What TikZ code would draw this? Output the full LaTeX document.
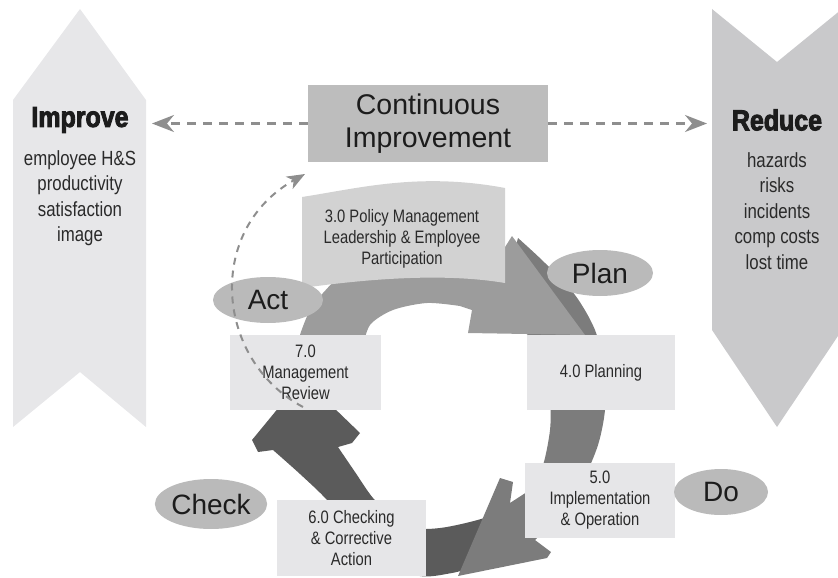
\documentclass[tikz,border=0pt]{standalone}
\usepackage{fontspec}
\setmainfont{Liberation Sans}
\newfontfamily\condf[FakeStretch=0.82]{Liberation Sans}
\newfontfamily\heavyf[FakeStretch=0.86,FakeBold=3]{Liberation Sans Bold}
\usetikzlibrary{shapes.geometric,arrows.meta}
\definecolor{impgray}{HTML}{E7E7E9}
\definecolor{redgray}{HTML}{C9C9CB}
\definecolor{cigray}{HTML}{BDBDBD}
\definecolor{boxgray}{HTML}{E6E6E8}
\definecolor{bannergray}{HTML}{D2D2D2}
\definecolor{ovalgray}{HTML}{BABABA}
\definecolor{agray}{HTML}{9C9C9C}
\definecolor{bgray}{HTML}{7C7C7C}
\definecolor{cgray}{HTML}{5B5B5B}
\definecolor{dashgray}{HTML}{8E8E8E}
\definecolor{txt}{HTML}{1C1C1C}
\definecolor{boxtxt}{HTML}{2A2A2A}
\begin{document}
\begin{tikzpicture}[x=1pt,y=-1pt,
  stepbox/.style={fill=boxgray,draw=none,inner sep=0pt,align=center,text=boxtxt,
    font=\condf\fontsize{18}{21}\selectfont},
  oval/.style={ellipse,fill=ovalgray,draw=none,inner sep=0pt,text=txt,
    font=\fontsize{28}{30}\selectfont},
  title/.style={inner sep=0pt,text=txt,font=\heavyf\fontsize{29}{30}\selectfont},
  sublist/.style={inner sep=0pt,align=center,text=boxtxt,font=\condf\fontsize{20.5}{25.5}\selectfont},
  dashline/.style={draw=dashgray,line width=2.2pt,dash pattern=on 9pt off 7pt,
    -{Stealth[length=22pt,width=17pt,inset=7pt]}},
  dasharc/.style={draw=dashgray,line width=2pt,dash pattern=on 7pt off 6pt,
    -{Stealth[length=18pt,width=14pt,inset=5pt]}}
]
\path[use as bounding box] (0,0) rectangle (838,578);
\clip (0,0) rectangle (838,578);

% side arrows
\fill[impgray] (13,100) -- (80,9) -- (146,100) -- (146,427) -- (80,372) -- (13,427) -- cycle;
\fill[redgray] (712,9) -- (777,62) -- (842,9) -- (842,330) -- (777,427) -- (712,330) -- cycle;

\node[title] (improve) at (80,120) {Improve};
\node[sublist] (implist) at (80,198) {employee H\&S\\productivity\\satisfaction\\image};
\node[title] (reduce) at (777,120) {Reduce};
\node[sublist] (redlist) at (777,211) {hazards\\risks\\incidents\\comp costs\\lost time};

% ring arrows
\fill[cgray] plot[smooth] coordinates {(505,512) (470,522) (440,528) (415,528) (392,515) (373,498) (355,472) (338,447)}
  -- (352,443) -- (360,433) -- (303,378) -- (252,440) -- (258,452) -- (273,450)
  -- plot[smooth] coordinates {(273,450) (300,474) (327,500) (352,532) (382,560) (420,576) (452,573) (470,568)} -- cycle;
\fill[bgray] plot[smooth] coordinates {(518,238) (545,263) (575,295) (595,330) (605,370) (605,410) (598,445) (583,480) (560,515) (535,540)}
  -- (551,552) -- (547,558) -- (458,576) -- (500,478) -- (513,482) -- (510,503)
  -- plot[smooth] coordinates {(530,490) (543,465) (550,430) (550,400) (543,360) (525,332) (498,316)} -- cycle;
\fill[agray] plot[smooth] coordinates {(298,350) (300,335) (310,310) (323,293) (345,272) (380,258) (420,252) (460,255) (495,263)}
  -- (512,236) -- (585,335) -- (468,333) -- (472,310)
  -- plot[smooth] coordinates {(460,306) (427,303) (393,310) (370,325) (362,350)} -- cycle;

% banner
\fill[bannergray] (302,197) .. controls (360,188) and (420,172) .. (505,188)
  -- (505,283) .. controls (440,272) and (360,280) .. (302,288) -- cycle;
\node[inner sep=0pt,align=center,text=boxtxt,font=\condf\fontsize{18}{21}\selectfont] (policy) at (402,239)
  {3.0 Policy Management\\Leadership \& Employee\\Participation};

% boxes
\node[stepbox,minimum width=148pt,minimum height=75pt] (planning) at (601,372.5) {4.0 Planning};
\node[stepbox,minimum width=151pt,minimum height=75pt] (review) at (305.5,372.5) {7.0\\Management\\Review};
\node[stepbox,minimum width=150pt,minimum height=75pt] (impl) at (600,500.5) {5.0\\Implementation\\\& Operation};
\node[stepbox,minimum width=149pt,minimum height=76pt] (checking) at (351.5,538) {6.0 Checking\\\& Corrective\\Action};

% ovals
\node[oval,minimum width=106pt,minimum height=46pt] (plan) at (600,273) {Plan};
\node[oval,minimum width=110pt,minimum height=46pt] (act) at (268,300) {Act};
\node[oval,minimum width=112pt,minimum height=50pt] (check) at (211,504) {Check};
\node[oval,minimum width=94pt,minimum height=46pt] (do) at (721,492) {Do};

% continuous improvement
\node[fill=cigray,inner sep=0pt,minimum width=240pt,minimum height=77pt,align=center,text=txt,
  font=\fontsize{28.5}{33}\selectfont] (ci) at (428,123.5) {Continuous\\Improvement};

\coordinate (imptip) at (152,123.5);
\coordinate (redtip) at (707,123.5);
\draw[dashline] (ci.west) -- (imptip);
\draw[dashline] (ci.east) -- (redtip);

\coordinate (arcstart) at (303,407);
\coordinate (arcend) at (305,174);
\draw[dasharc] (arcstart) .. controls (215,360) and (205,230) .. (arcend);
\end{tikzpicture}
\end{document}
